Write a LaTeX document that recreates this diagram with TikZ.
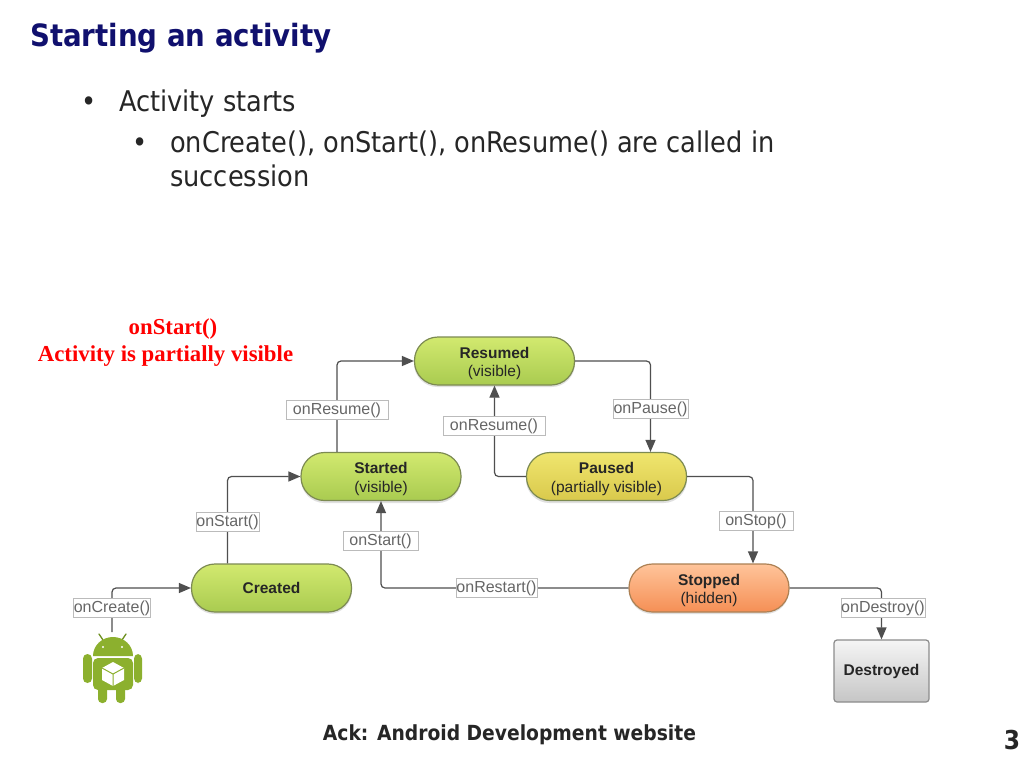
\documentclass[tikz,border=0pt]{standalone}
\usepackage{fontspec}
\setmainfont{Liberation Sans}
\newfontfamily\slidefont{DejaVu Sans Condensed}
\newfontfamily\redfont{Liberation Serif}
\usetikzlibrary{arrows.meta}
\definecolor{navytitle}{HTML}{10106E}
\definecolor{wire}{HTML}{4F4F4F}
\definecolor{lblgray}{HTML}{666666}
\definecolor{lblline}{HTML}{BBBBBB}
\definecolor{nodeedge}{HTML}{7C8A52}
\definecolor{droid}{HTML}{8CB02E}
\definecolor{droiddark}{HTML}{6F9122}
\definecolor{lime1}{HTML}{D2E96F}
\definecolor{lime2}{HTML}{A9CB50}
\definecolor{yel1}{HTML}{F0E66E}
\definecolor{yel2}{HTML}{D9C94C}
\definecolor{org1}{HTML}{FFC49A}
\definecolor{org2}{HTML}{F58F55}
\newcommand\twopad{\rule{0pt}{16pt}}
\newcommand\lblpad{\rule{0pt}{14pt}}
\tikzset{
  pill/.style={rounded corners=23.5pt, draw=nodeedge, line width=1.2pt, minimum width=160pt, minimum height=48pt,
    align=center, font=\fontsize{15.5}{18.5}\selectfont, text=black!85, inner sep=0pt},
  lime/.style={pill, top color=lime1, bottom color=lime2},
  paused/.style={pill, top color=yel1, bottom color=yel2},
  stopped/.style={pill, draw=brown!70!gray, top color=org1, bottom color=org2},
  destroyedbox/.style={rounded corners=3pt, draw=gray!90, line width=1.2pt, top color=gray!8, bottom color=gray!45,
    minimum width=95pt, minimum height=62pt, font=\fontsize{15.5}{18.5}\selectfont, text=black!85, inner sep=0pt},
  lbl/.style={draw=lblline, fill=white, line width=0.8pt, text=lblgray, font=\fontsize{16}{18}\selectfont,
    minimum height=19pt, inner sep=0pt},
  wired/.style={draw=wire, line width=1.2pt, rounded corners=4pt},
  arrowed/.style={wired, -{Triangle[length=12pt,width=10pt]}},
  slidetext/.style={anchor=base west, font=\slidefont\fontsize{28.5}{32}\selectfont, text=black!85, inner sep=0pt},
  redtext/.style={font=\redfont\bfseries\fontsize{22.8}{25}\selectfont, text=red, inner sep=0pt},
}
\begin{document}
\begin{tikzpicture}[x=1pt,y=-1pt]
\useasboundingbox (0,0) rectangle (1024,768);
\fill[white] (0,0) rectangle (1024,768);

% slide text
\node[anchor=base west, font=\slidefont\bfseries\fontsize{30.7}{36}\selectfont, text=navytitle, inner sep=0pt] (title) at (30,47) {Starting an activity};
\node[slidetext] (b1) at (81,111) {•};
\node[slidetext] (t1) at (119,111) {Activity starts};
\node[slidetext] (b2) at (132,152) {•};
\node[slidetext] (t2) at (170,152) {onCreate(), onStart(), onResume() are called in};
\node[slidetext] (t3) at (170,186) {succession};
\node[redtext] (r1) at (173,329) {onStart()};
\node[redtext] (r2) at (165.5,356) {Activity is partially visible};
\node[anchor=base, font=\slidefont\bfseries\fontsize{20.8}{26}\selectfont, text=black!85, inner sep=0pt] (ack) at (509.5,740) {Ack: Android Development website};
\node[anchor=base, font=\slidefont\bfseries\fontsize{26}{30}\selectfont, text=black!85, inner sep=0pt] (pg) at (1012,749) {3};

% soft shadows
\foreach \a/\b/\c/\d in {414/338/575/387,301/453/461/503,526/453/687/503,191/565/352/614,629/565/789/614}
  \fill[black!12, rounded corners=23.5pt] (\a,\b) rectangle (\c,\d);

% states
\node[lime] (resumed) at (494.5,361) {\twopad\textbf{Resumed}\\(visible)};
\node[lime] (started) at (381,476.5) {\twopad\textbf{Started}\\(visible)};
\node[paused] (pausedn) at (606.5,476.5) {\twopad\textbf{Paused}\\(partially visible)};
\node[lime] (created) at (271.5,588) {\textbf{Created}};
\node[stopped] (stoppedn) at (709,588) {\twopad\textbf{Stopped}\\(hidden)};
\node[destroyedbox] (destroyed) at (881.5,671) {\textbf{Destroyed}};

% Android robot
\coordinate (droidtop) at (112,632);
\begin{scope}
  \draw[droiddark, line width=1.3pt, line cap=round] (99,634) -- (103,640) (126,634) -- (122,640);
  \fill[droid] (93,656) arc[start angle=180, end angle=360, x radius=20, y radius=19] -- cycle;
  \fill[droid, rounded corners=5pt] (93,658) rectangle (133,690);
  \fill[droid, rounded corners=4.5pt] (83,654) rectangle (92,683);
  \fill[droid, rounded corners=4.5pt] (134,654) rectangle (142,683);
  \fill[droid, rounded corners=4pt] (98,685) rectangle (107,703);
  \fill[droid, rounded corners=4pt] (116,685) rectangle (125,703);
  \fill[white] (103,647) circle (1.2) (122,647) circle (1.2);
  \fill[white] (113,662) -- (124,668) -- (124,680) -- (113,686) -- (102,680) -- (102,668) -- cycle;
  \draw[droid, line width=1pt] (102,668) -- (113,674) -- (124,668) (113,674) -- (113,686);
\end{scope}

% label anchors (drawn first so connectors can refer to them)
\coordinate (lstart1c) at (227.5,521.5);
\coordinate (lresume1c) at (337,409.5);
\coordinate (lpausec) at (650.5,408.5);
\coordinate (lstopc) at (753,520.5);

% connectors
\draw[arrowed] (droidtop) |- (created.west);
\draw[arrowed] (lstart1c |- created.north) |- (started.west);
\draw[arrowed] (lresume1c |- started.north) |- (resumed.west);
\draw[arrowed] (pausedn.west) -| (resumed.south);
\draw[arrowed] (resumed.east) -| (lpausec |- pausedn.north);
\draw[arrowed] (pausedn.east) -| (lstopc |- stoppedn.north);
\draw[arrowed] (stoppedn.west) -| (started.south);
\draw[arrowed] (stoppedn.east) -| (destroyed.north);

% labels on top of the lines
\node[lbl, minimum width=76pt] (lcreate) at (112,607.5) {\lblpad onCreate()};
\node[lbl, minimum width=63pt] (lstart1) at (lstart1c) {\lblpad onStart()};
\node[lbl, minimum width=102pt] (lresume1) at (lresume1c) {\lblpad onResume()};
\node[lbl, minimum width=102pt] (lresume2) at (494,425.5) {\lblpad onResume()};
\node[lbl, minimum width=75pt] (lpause) at (lpausec) {\lblpad onPause()};
\node[lbl, minimum width=74pt] (lstop) at (756,520.5) {\lblpad onStop()};
\node[lbl, minimum width=75pt] (lstart2) at (380.5,540.5) {\lblpad onStart()};
\node[lbl, minimum width=81pt] (lrestart) at (496.5,587.5) {\lblpad onRestart()};
\node[lbl, minimum width=84pt] (ldestroy) at (883,607.5) {\lblpad onDestroy()};
\end{tikzpicture}
\end{document}
